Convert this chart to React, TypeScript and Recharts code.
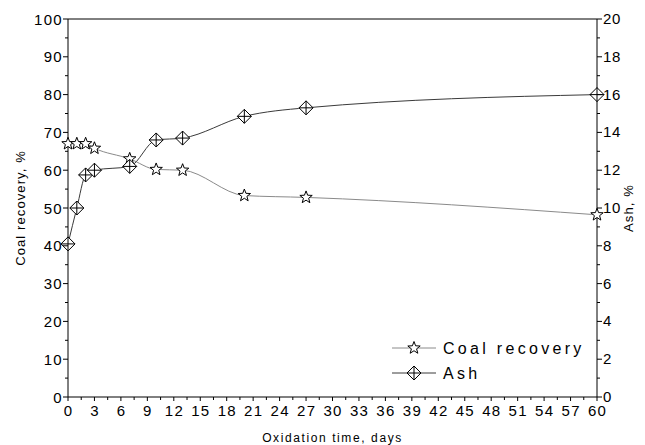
import { LineChart, Line, XAxis, YAxis, ReferenceLine, Legend } from 'recharts'

const days = [0, 1, 2, 3, 7, 10, 13, 20, 27, 60]
const coalRecovery = [67, 67, 67, 65.8, 63, 60.2, 60, 53.3, 52.8, 48.2]
const ash = [8.1, 10, 11.75, 12, 12.2, 13.6, 13.7, 14.85, 15.3, 16]

const xTicks = Array.from({ length: 41 }, (_, i) => i * 1.5)
const leftTicks = Array.from({ length: 21 }, (_, i) => i * 5)
const rightTicks = Array.from({ length: 21 }, (_, i) => i)

const data = days.map((d, i) => ({ day: d, coal: coalRecovery[i], ash: ash[i] }))

const FONT = '"Liberation Sans", Arial, sans-serif'
const COAL_COLOR = '#8a8a8a'
const ASH_COLOR = '#3a3a3a'

function starPoints(cx: number, cy: number, r: number) {
  const pts: string[] = []
  for (let k = 0; k < 10; k++) {
    const rad = k % 2 === 0 ? r : r * 0.42
    const a = -Math.PI / 2 + (k * Math.PI) / 5
    pts.push(`${cx + rad * Math.cos(a)},${cy + rad * Math.sin(a)}`)
  }
  return pts.join(' ')
}

function Star({ cx, cy }: { cx?: number; cy?: number }) {
  if (cx === undefined || cy === undefined) return null
  return <polygon points={starPoints(cx, cy, 6.5)} fill="#fff" stroke="#000" strokeWidth={1} />
}

function Diamond({ cx, cy }: { cx?: number; cy?: number }) {
  if (cx === undefined || cy === undefined) return null
  const r = 7
  return (
    <g>
      <polygon points={`${cx},${cy - r} ${cx + r},${cy} ${cx},${cy + r} ${cx - r},${cy}`} fill="#fff" stroke="#000" strokeWidth={1} />
      <line x1={cx - r} y1={cy} x2={cx + r} y2={cy} stroke="#000" strokeWidth={1} />
      <line x1={cx} y1={cy - r} x2={cx} y2={cy + r} stroke="#000" strokeWidth={1} />
    </g>
  )
}

const tickText = { fontSize: 15, letterSpacing: 1.3, fontFamily: FONT, fill: '#000' }

function XTick({ x, y, payload }: any) {
  const v = payload.value as number
  const major = Math.abs(v % 3) < 1e-6
  return (
    <g>
      <line x1={x} y1={y} x2={x} y2={y + (major ? 4 : 3)} stroke="#000" />
      {major && (
        <text x={x + 0.6} y={y + 18.5} textAnchor="middle" {...tickText}>
          {v}
        </text>
      )}
    </g>
  )
}

function LeftTick({ x, y, payload }: any) {
  const v = payload.value as number
  const major = v % 10 === 0
  return (
    <g>
      <line x1={x - (major ? 5 : 3)} y1={y} x2={x} y2={y} stroke="#000" />
      {major && (
        <text x={x - 5} y={y + 5.5} textAnchor="end" {...tickText}>
          {v}
        </text>
      )}
    </g>
  )
}

function RightTick({ x, y, payload }: any) {
  const v = payload.value as number
  const major = v % 2 === 0
  return (
    <g>
      <line x1={x} y1={y} x2={x + (major ? 5 : 3)} y2={y} stroke="#000" />
      {major && (
        <text x={x + 6} y={y + 5} textAnchor="start" {...tickText} letterSpacing={0.6}>
          {v}
        </text>
      )}
    </g>
  )
}

function LegendBox() {
  const rows = [
    { name: 'Coal recovery', color: COAL_COLOR, Marker: Star, y: 13 },
    { name: 'Ash', color: ASH_COLOR, Marker: Diamond, y: 38 },
  ]
  return (
    <svg width={230} height={50} style={{ display: 'block' }}>
      {rows.map(({ name, color, Marker, y }) => (
        <g key={name}>
          <line x1={7} y1={y} x2={51} y2={y} stroke={color} strokeWidth={1} />
          <Marker cx={29} cy={y} />
          <text x={58} y={y + 6} fontSize={16} letterSpacing={3.3} fontFamily={FONT} fill="#000">
            {name}
          </text>
        </g>
      ))}
    </svg>
  )
}

export default function App() {
  return (
    <div style={{ position: 'absolute', left: 0, top: 0, background: '#fff' }}>
      <LineChart width={645} height={445} data={data} margin={{ top: 19, right: 0, bottom: 0, left: 0 }}>
        <XAxis
          dataKey="day"
          type="number"
          domain={[0, 60]}
          ticks={xTicks}
          interval={0}
          height={48}
          tickSize={0}
          tickMargin={0}
          tickLine={false}
          tick={XTick}
          axisLine={{ stroke: '#000' }}
          label={{ value: 'Oxidation time, days', position: 'insideBottom', offset: 3, style: { fontSize: 12, letterSpacing: 1.6, fontFamily: FONT, fill: '#000' } }}
        />
        <YAxis
          yAxisId="left"
          domain={[0, 100]}
          ticks={leftTicks}
          interval={0}
          width={68}
          tickSize={0}
          tickMargin={0}
          tickLine={false}
          tick={LeftTick}
          axisLine={{ stroke: '#000' }}
          label={{ value: 'Coal recovery, %', angle: -90, position: 'insideLeft', offset: 20, style: { fontSize: 13, letterSpacing: 1.1, fontFamily: FONT, fill: '#000', textAnchor: 'middle' } }}
        />
        <YAxis
          yAxisId="right"
          orientation="right"
          domain={[0, 20]}
          ticks={rightTicks}
          interval={0}
          width={48}
          tickSize={0}
          tickMargin={0}
          tickLine={false}
          tick={RightTick}
          axisLine={{ stroke: '#000' }}
          label={{ value: 'Ash, %', angle: -90, position: 'insideRight', offset: 17, style: { fontSize: 13, letterSpacing: 1.1, fontFamily: FONT, fill: '#000', textAnchor: 'middle' } }}
        />
        <ReferenceLine yAxisId="left" y={100} stroke="#000" strokeWidth={1} />
        <Line
          yAxisId="left"
          type="monotone"
          dataKey="coal"
          name="Coal recovery"
          stroke={COAL_COLOR}
          strokeWidth={1}
          dot={(p: any) => <Star key={`c${p.index}`} cx={p.cx} cy={p.cy} />}
          isAnimationActive={false}
        />
        <Line
          yAxisId="right"
          type="monotone"
          dataKey="ash"
          name="Ash"
          stroke={ASH_COLOR}
          strokeWidth={1}
          dot={(p: any) => <Diamond key={`a${p.index}`} cx={p.cx} cy={p.cy} />}
          isAnimationActive={false}
        />
        <Legend
          layout="vertical"
          align="center"
          verticalAlign="middle"
          content={() => <LegendBox />}
          wrapperStyle={{ left: 385, top: 335, width: 230, height: 50 }}
        />
      </LineChart>
    </div>
  )
}
